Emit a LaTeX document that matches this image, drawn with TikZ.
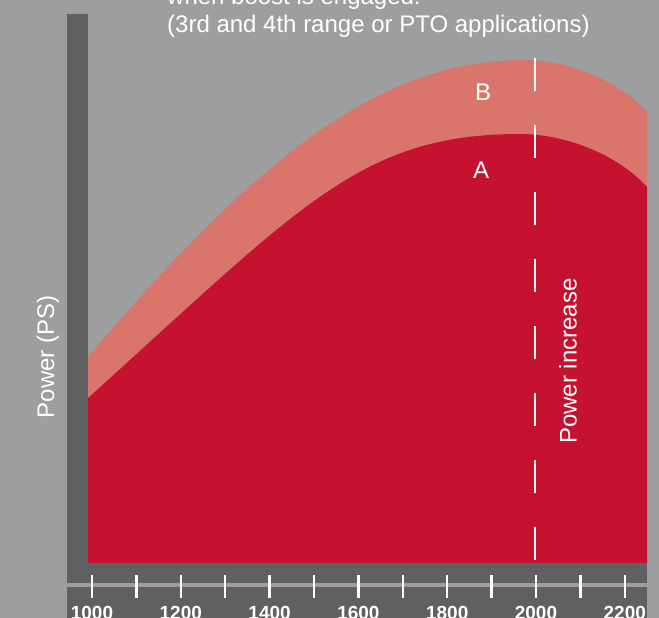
\documentclass[tikz,border=0pt]{standalone}
\usepackage{fontspec}
\setmainfont{Liberation Sans}
\definecolor{bggray}{RGB}{157,158,160}
\definecolor{axisgray}{RGB}{95,96,98}
\definecolor{chartred}{RGB}{196,18,48}
\definecolor{chartsalmon}{RGB}{218,117,107}
\begin{document}
\begin{tikzpicture}[x=1pt,y=-1pt,
  lbl/.style={text=white,font=\fontsize{24}{28}\selectfont,inner sep=0pt},
  ticklbl/.style={text=white,font=\bfseries\fontsize{19}{22}\selectfont,anchor=base,inner sep=0pt},
  tickmark/.style={white,line width=2.5pt},
  dashline/.style={white,line width=2.5pt,dash pattern=on 33pt off 34pt}]
\useasboundingbox (0,0) rectangle (659,618);
\clip (0,0) rectangle (659,618);
\fill[bggray] (0,0) rectangle (659,618);
% axes
\fill[axisgray] (67,14) rectangle (88,583);
\fill[axisgray] (67,563) rectangle (647,583);
\fill[axisgray] (67,587) rectangle (647,618);
% curve B
\fill[chartsalmon] (88,563) -- (88,357) .. controls (258,157) and (380,60) .. (525,60)
  .. controls (565,60) and (617,79) .. (647,112) -- (647,563) -- cycle;
% curve A
\fill[chartred] (88,563) -- (88,398) .. controls (300,207) and (360,134) .. (520,134)
  .. controls (565,134) and (617,154) .. (647,187) -- (647,563) -- cycle;
% dashed power increase line
\coordinate (dtop) at (535,58);
\coordinate (dbot) at (535,563);
\draw[dashline] (dtop) -- (dbot);
% ticks
\foreach \n in {0,...,12}{
  \draw[tickmark] (92+44.4*\n,575) -- (92+44.4*\n,598);
}
\foreach \n/\v in {0/1000,2/1200,4/1400,6/1600,8/1800,10/2000,12/2200}{
  \node[ticklbl] (t\v) at (92+44.4*\n,619) {\v};
}
% labels
\node[lbl] (labB) at (483,92) {B};
\node[lbl] (labA) at (481,170) {A};
\node[lbl,rotate=90] (ylab) at (48,357) {Power (PS)};
\node[lbl,rotate=90] (pinc) at (568,361) {Power increase};
\node[lbl,anchor=base west] (t1) at (167,5) {when boost is engaged.};
\node[lbl,anchor=base west] (t2) at (167,33) {(3rd and 4th range or PTO applications)};
\end{tikzpicture}
\end{document}
